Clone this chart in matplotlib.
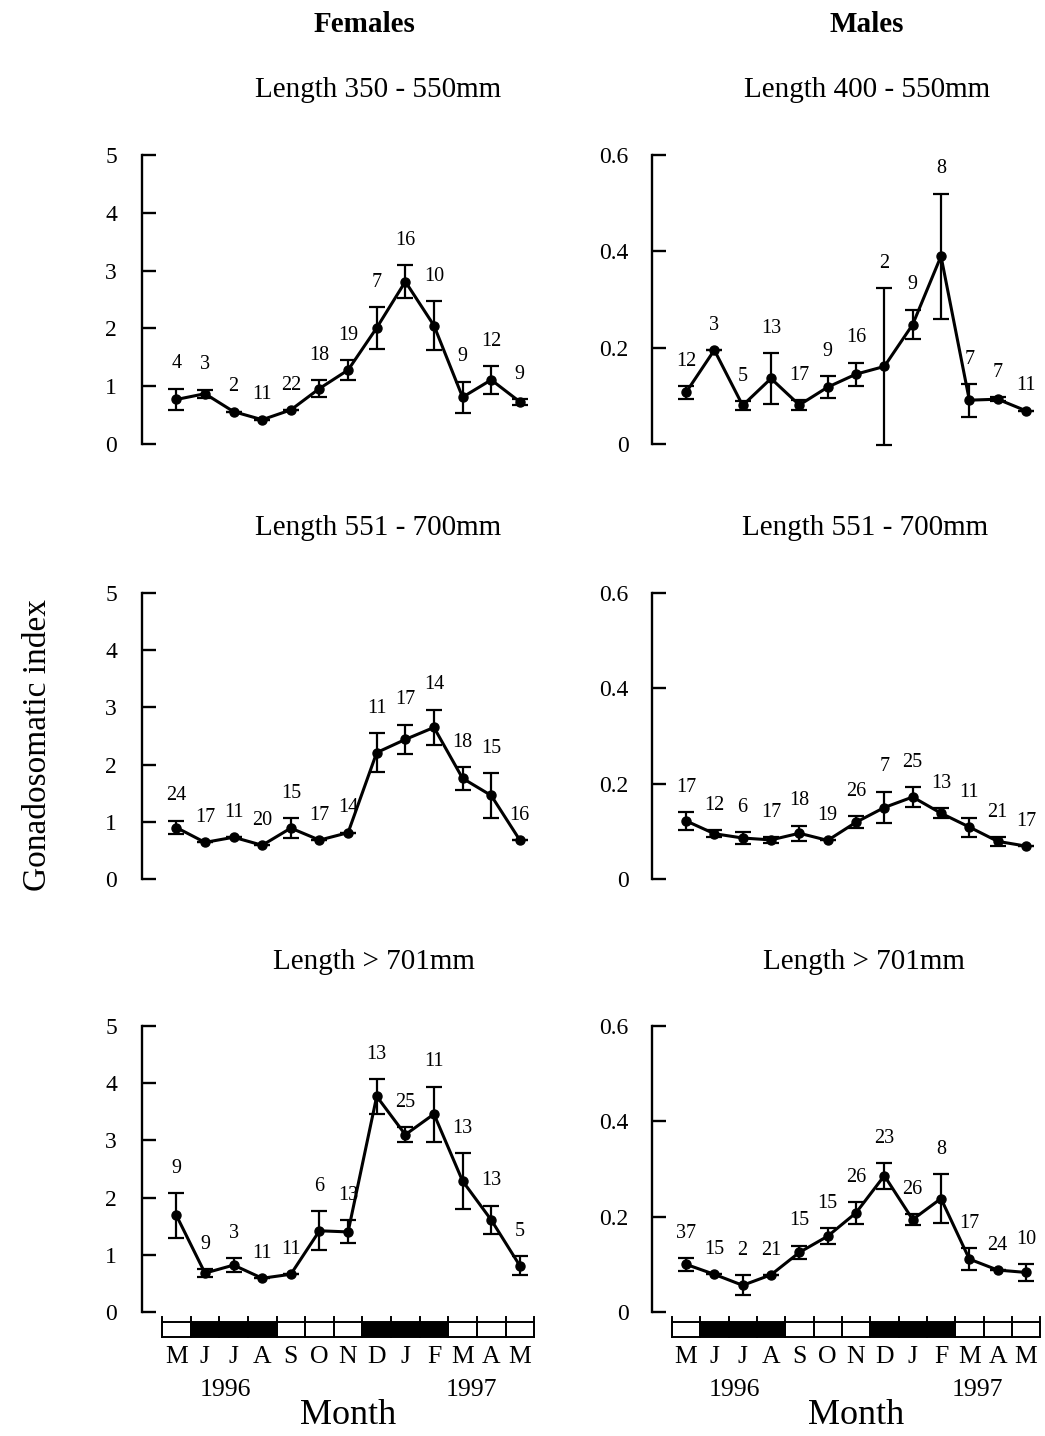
import matplotlib
matplotlib.use("Agg")
import matplotlib.pyplot as plt
from matplotlib.patches import Rectangle
from matplotlib.transforms import blended_transform_factory

plt.rcParams['font.family'] = ['Liberation Serif', 'DejaVu Serif']

# ---- data ----
months = ['M', 'J', 'J', 'A', 'S', 'O', 'N', 'D', 'J', 'F', 'M', 'A', 'M']
dark_months = [0, 1, 1, 1, 0, 0, 0, 1, 1, 1, 0, 0, 0]
years = ['1996', '1997']

f_small_mean = [0.77, 0.87, 0.56, 0.42, 0.59, 0.96, 1.28, 2.01, 2.81, 2.05, 0.81, 1.11, 0.73]
f_small_err = [0.19, 0.07, 0, 0, 0, 0.15, 0.17, 0.36, 0.29, 0.42, 0.27, 0.24, 0.05]
f_small_n = [4, 3, 2, 11, 22, 18, 19, 7, 16, 10, 9, 12, 9]

m_small_mean = [0.107, 0.195, 0.080, 0.136, 0.081, 0.118, 0.145, 0.161, 0.248, 0.390, 0.091, 0.093, 0.069]
m_small_err = [0.013, 0, 0.009, 0.053, 0.010, 0.023, 0.024, 0.163, 0.031, 0.130, 0.034, 0.004, 0]
m_small_n = [12, 3, 5, 13, 17, 9, 16, 2, 9, 8, 7, 7, 11]

f_mid_mean = [0.90, 0.64, 0.73, 0.59, 0.89, 0.68, 0.81, 2.21, 2.44, 2.65, 1.76, 1.46, 0.68]
f_mid_err = [0.12, 0, 0, 0, 0.18, 0, 0, 0.34, 0.26, 0.31, 0.20, 0.39, 0]
f_mid_n = [24, 17, 11, 20, 15, 17, 14, 11, 17, 14, 18, 15, 16]

m_mid_mean = [0.122, 0.095, 0.086, 0.082, 0.096, 0.081, 0.119, 0.150, 0.172, 0.138, 0.109, 0.079, 0.069]
m_mid_err = [0.019, 0.007, 0.013, 0.006, 0.016, 0, 0.013, 0.033, 0.021, 0.011, 0.020, 0.009, 0]
m_mid_n = [17, 12, 6, 17, 18, 19, 26, 7, 25, 13, 11, 21, 17]

f_big_mean = [1.69, 0.68, 0.82, 0.59, 0.66, 1.42, 1.40, 3.77, 3.10, 3.46, 2.29, 1.61, 0.81]
f_big_err = [0.39, 0.07, 0.12, 0, 0, 0.34, 0.20, 0.30, 0.13, 0.48, 0.49, 0.25, 0.17]
f_big_n = [9, 9, 3, 11, 11, 6, 13, 13, 25, 11, 13, 13, 5]

m_big_mean = [0.100, 0.079, 0.056, 0.078, 0.125, 0.159, 0.208, 0.286, 0.194, 0.238, 0.111, 0.088, 0.083]
m_big_err = [0.013, 0, 0.021, 0, 0.014, 0.017, 0.023, 0.027, 0.012, 0.051, 0.023, 0, 0.018]
m_big_n = [37, 15, 2, 21, 15, 15, 26, 23, 26, 8, 17, 24, 10]

# ---- layout (pixels) ----
W, H = 1045, 1436
fig = plt.figure(figsize=(W / 100, H / 100), dpi=100)
fig.patch.set_facecolor('white')

XMIN, XMAX = -1.2, 12.6


def add_ax(left, top, bottom, width):
    return fig.add_axes([left / W, 1 - bottom / H, width / W, (bottom - top) / H])


def draw_panel(ax, mean, err, n, ymax, yticks, yticklabels, pad):
    x = list(range(len(mean)))
    ax.errorbar(x, mean, yerr=err, color='black', lw=2.2, marker='o', ms=6.5,
                ecolor='black', elinewidth=1.6, capsize=6, capthick=1.6,
                clip_on=False, zorder=3)
    for xi, m, e, k in zip(x, mean, err, n):
        ax.annotate(str(k), (xi, m + e), xytext=(0, 11), textcoords='offset points',
                    ha='center', va='bottom', fontsize=14.5, annotation_clip=False)
    ax.set_xlim(XMIN, XMAX)
    ax.set_ylim(0, ymax)
    for s in ['top', 'right', 'bottom']:
        ax.spines[s].set_visible(False)
    ax.spines['left'].set_linewidth(1.7)
    ax.set_xticks([])
    ax.set_yticks(yticks)
    ax.set_yticklabels(yticklabels)
    ax.tick_params(axis='y', direction='in', length=10, width=1.7, labelsize=17, pad=pad)
    ax.patch.set_alpha(0)


def draw_month_bar(ax_bar):
    ax_bar.set_xlim(XMIN, XMAX)
    ax_bar.set_ylim(0, 1)
    ax_bar.axis('off')
    for i, d in enumerate(dark_months):
        ax_bar.add_patch(Rectangle((i - 0.5, 0), 1, 1, facecolor='black' if d else 'white',
                                   edgecolor='black', lw=1.4, clip_on=False))
    for i in range(len(months) + 1):
        ax_bar.plot([i - 0.5, i - 0.5], [0, 1.35], color='black', lw=1.4, clip_on=False)
    tr = blended_transform_factory(ax_bar.transData, fig.transFigure)
    for i, m in enumerate(months):
        ax_bar.text(i, 1 - 1357 / H, m, transform=tr, ha='center', va='center', fontsize=18.5)
    ax_bar.text(1.7, 1 - 1390 / H, years[0], transform=tr, ha='center', va='center', fontsize=18.5)
    ax_bar.text(10.3, 1 - 1390 / H, years[1], transform=tr, ha='center', va='center', fontsize=18.5)
    ax_bar.text(6.0, 1 - 1416 / H, 'Month', transform=tr, ha='center', va='center', fontsize=26)


LEFT_F, WIDTH_F = 142, 395
LEFT_M, WIDTH_M = 652, 391
rows = [(155, 444), (593, 879), (1026, 1312)]

f_ticks = [0, 1, 2, 3, 4, 5]
f_labels = ['0', '1', '2', '3', '4', '5']
m_ticks = [0, 0.2, 0.4, 0.6]
m_labels = ['0', '0.2', '0.4', '0.6']

female_sets = [(f_small_mean, f_small_err, f_small_n),
               (f_mid_mean, f_mid_err, f_mid_n),
               (f_big_mean, f_big_err, f_big_n)]
male_sets = [(m_small_mean, m_small_err, m_small_n),
             (m_mid_mean, m_mid_err, m_mid_n),
             (m_big_mean, m_big_err, m_big_n)]

for (top, bot), fs, ms in zip(rows, female_sets, male_sets):
    axf = add_ax(LEFT_F, top, bot, WIDTH_F)
    draw_panel(axf, *fs, 5, f_ticks, f_labels, 18)
    axm = add_ax(LEFT_M, top, bot, WIDTH_M)
    draw_panel(axm, *ms, 0.6, m_ticks, m_labels, 17)

# month bars under the bottom row
draw_month_bar(add_ax(LEFT_F, 1322, 1337, WIDTH_F))
draw_month_bar(add_ax(LEFT_M, 1322, 1337, WIDTH_M))

# titles and subtitles
fig.text(365 / W, 1 - 25 / H, 'Females', ha='center', va='center', fontsize=21, fontweight='bold')
fig.text(867 / W, 1 - 25 / H, 'Males', ha='center', va='center', fontsize=21, fontweight='bold')

subtitles = [(378, 90, 'Length 350 - 550mm'), (867, 90, 'Length 400 - 550mm'),
             (378, 528, 'Length 551 - 700mm'), (865, 528, 'Length 551 - 700mm'),
             (374, 962, 'Length > 701mm'), (864, 962, 'Length > 701mm')]
for sx, sy, s in subtitles:
    fig.text(sx / W, 1 - sy / H, s, ha='center', va='center', fontsize=21)

fig.text(38 / W, 1 - 745 / H, 'Gonadosomatic index', rotation=90,
         ha='center', va='center', fontsize=24)

fig.savefig('out.png', dpi=100, facecolor='white')
